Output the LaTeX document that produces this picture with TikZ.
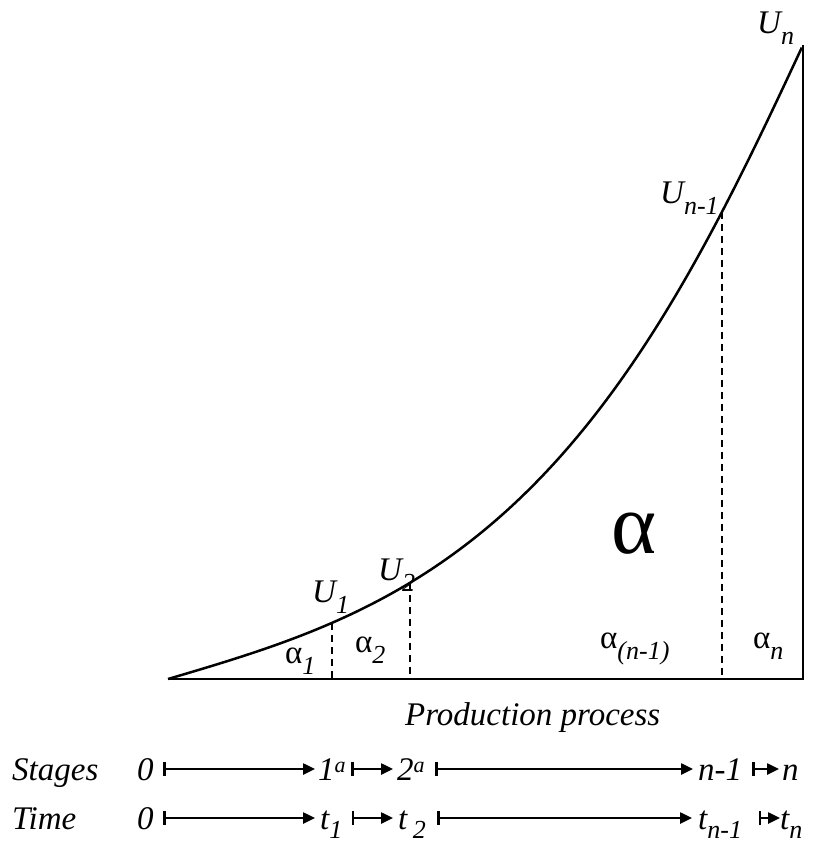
\documentclass[tikz,border=0pt]{standalone}
\usepackage{fontspec}
\setmainfont{Liberation Serif}
\usetikzlibrary{arrows.meta}
\newcommand\lsub[1]{\raisebox{-11pt}{\fontsize{26}{26}\selectfont #1}}
\newcommand\tsub[1]{\raisebox{-9pt}{\fontsize{26}{26}\selectfont #1}}
\newcommand\lsup[1]{\raisebox{8pt}{\fontsize{22}{22}\selectfont #1}}
\begin{document}
\begin{tikzpicture}[x=1pt,y=-1pt,
  lbl/.style={inner sep=0pt, anchor=base west, font=\fontsize{33}{40}\selectfont\itshape},
  rowtxt/.style={lbl, text height=22pt, text depth=0pt},
  curve/.style={line width=2.5pt, line join=round},
  axis/.style={line width=2.7pt, line join=miter},
  guide/.style={line width=1.4pt, dash pattern=on 7pt off 5pt},
  arr/.style={line width=2.5pt, {Bar[width=14pt]}-{Triangle[length=12pt,width=11pt]}}
]
\useasboundingbox (0,0) rectangle (818,844);
% key points
\coordinate (O) at (168,679);
\coordinate (E) at (803,679);
\coordinate (T) at (803,45);
\coordinate (P1) at (332,623);
\coordinate (P2) at (410,583);
\coordinate (Pn) at (722,212);
% curve
\draw[curve] plot[domain=0:1, samples=150, smooth]
  ({168+635*\x}, {679-634*(0.296*\x+0.704*\x*\x*\x+0.26*(\x^8)*(1-\x))});
% axes
\draw[axis] (O) -- (E) -- (T);
% guides
\draw[guide] (P1) -- (P1 |- O);
\draw[guide] (P2) -- (P2 |- O);
\draw[guide] (Pn) -- (Pn |- O);
% labels
\node[lbl] (Un) at (757,33) {U\lsub{n}};
\node[lbl] (Un1) at (660,203) {U\lsub{n-1}};
\node[lbl] (U1) at (312,602) {U\lsub{1}};
\node[lbl] (U2) at (378,580) {U\lsub{2}};
\node[lbl] (a1) at (285,663) {{\upshape α}\lsub{1}};
\node[lbl] (a2) at (355,652) {{\upshape α}\lsub{2}};
\node[lbl, font=\fontsize{86}{90}\selectfont] (abig) at (611,553) {α};
\node[lbl] (an1) at (600,648) {{\upshape α}\lsub{(n-1)}};
\node[lbl] (an) at (753,648) {{\upshape α}\lsub{n}};
\node[lbl] (pp) at (405,725) {Production process};
% Stages row
\node[rowtxt] (st) at (12,780) {Stages};
\node[rowtxt] (s0) at (137,780) {0};
\node[rowtxt] (s1) at (318,780) {1\lsup{a}};
\node[rowtxt] (s2) at (397,780) {2\lsup{a}};
\node[rowtxt] (s3) at (698,780) {n-1};
\node[rowtxt] (s4) at (782,780) {n};
\draw[arr, shorten <=9.5pt, shorten >=3pt] (s0) -- (s1);
\draw[arr, shorten <=5.5pt, shorten >=4pt] (s1) -- (s2);
\draw[arr, shorten <=10.5pt, shorten >=5pt] (s2) -- (s3);
\draw[arr, shorten <=10pt, shorten >=3pt] (s3) -- (s4);
% Time row
\node[rowtxt] (tm) at (12,829) {Time};
\node[rowtxt] (t0) at (137,829) {0};
\node[rowtxt] (t1) at (320,829) {t\tsub{1}};
\node[rowtxt] (t2) at (398,829) {t\,\tsub{2}};
\node[rowtxt] (t3) at (698,829) {t\tsub{n-1}};
\node[rowtxt] (t4) at (780,829) {t\tsub{n}};
\draw[arr, shorten <=9.5pt, shorten >=5pt] (t0) -- (t1);
\draw[arr, shorten <=9.3pt, shorten >=5pt] (t1) -- (t2);
\draw[arr, shorten <=11pt, shorten >=6pt] (t2) -- (t3);
\draw[arr, shorten <=16.5pt, shorten >=0pt] (t3) -- (t4);
\end{tikzpicture}
\end{document}
